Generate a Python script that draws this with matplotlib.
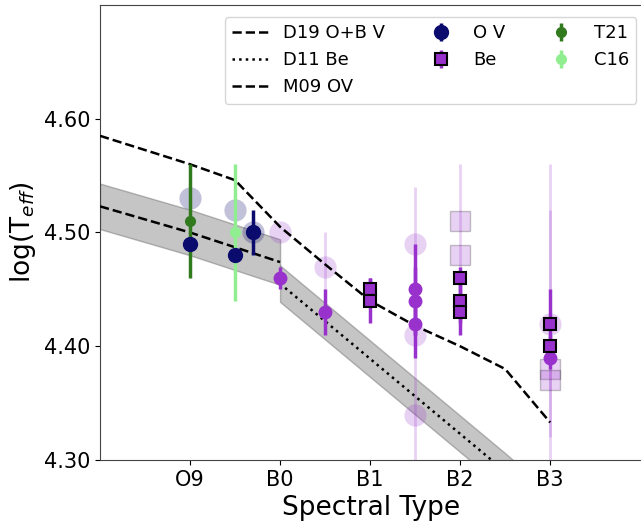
import matplotlib
matplotlib.use("Agg")
import matplotlib.pyplot as plt
import numpy as np

# spectral type axis: O9 = 9, B0 = 10, B1 = 11, ...
spec_ticks = [9, 10, 11, 12, 13]
spec_labels = ['O9', 'B0', 'B1', 'B2', 'B3']

# calibrations
d19_x = [8, 9, 9.5, 10, 10.5, 11, 11.5, 12, 12.5, 13]
d19_y = [4.585, 4.560, 4.546, 4.505, 4.472, 4.440, 4.418, 4.400, 4.380, 4.333]
m09_x = [8, 9, 9.5, 10]
m09_y = [4.523, 4.500, 4.487, 4.474]
m09_err = 0.02
d11_x = [10, 10.5, 11, 11.5, 12, 12.5, 13]
d11_y = [4.455, 4.422, 4.389, 4.356, 4.323, 4.290, 4.256]
d11_err = 0.016

# O V stars
ov_x = [9, 9.5, 9.7]
ov_y = [4.49, 4.48, 4.50]
ov_err = [0.0, 0.0, 0.02]
ov_prev_x = [9, 9.5, 9.7]
ov_prev_y = [4.53, 4.52, 4.50]

# literature
t21_x = [9]
t21_y = [4.51]
t21_err = [0.05]
c16_x = [9.5]
c16_y = [4.50]
c16_err = [0.06]

# Be stars
be_c_x = [10, 10.5, 11.5, 11.5, 11.5, 13]
be_c_y = [4.46, 4.43, 4.45, 4.44, 4.42, 4.39]
be_c_err = [0.01, 0.02, 0.04, 0.03, 0.03, 0.01]
be_s_x = [11, 11, 12, 12, 12, 13, 13]
be_s_y = [4.45, 4.44, 4.46, 4.44, 4.43, 4.42, 4.40]
be_s_err = [0.01, 0.02, 0.01, 0.02, 0.02, 0.03, 0.01]

# earlier estimates (lower, upper errors)
be_pc_x = [10, 10.5, 11.5, 11.5, 11.5, 13]
be_pc_y = [4.50, 4.47, 4.49, 4.41, 4.34, 4.42]
be_pc_lo = [0.0, 0.03, 0.05, 0.0, 0.10, 0.10]
be_pc_hi = [0.0, 0.03, 0.05, 0.0, 0.07, 0.10]
be_ps_x = [12, 12, 13, 13]
be_ps_y = [4.51, 4.48, 4.38, 4.37]
be_ps_lo = [0.05, 0.0, 0.0, 0.19]
be_ps_hi = [0.05, 0.0, 0.0, 0.19]

navy = '#0b0b6e'
orchid = '#9932cc'
t21_col = '#317a1e'
c16_col = '#90ee90'

fig = plt.figure(figsize=(6.41, 5.25), dpi=100)
ax = fig.add_axes([100 / 641, 65 / 525, 542 / 641, 455 / 525])

# grey bands
m09_y = np.array(m09_y)
d11_y = np.array(d11_y)
ax.fill_between(m09_x, m09_y - m09_err, m09_y + m09_err, color='grey',
                alpha=0.45, edgecolor='dimgrey', zorder=1)
ax.fill_between(d11_x, d11_y - d11_err, d11_y + d11_err, color='grey',
                alpha=0.45, edgecolor='dimgrey', zorder=1)

l1, = ax.plot(d19_x, d19_y, '--', color='k', lw=1.8, zorder=3)
l2, = ax.plot(d11_x, d11_y, ':', color='k', lw=1.8, zorder=3)
l3, = ax.plot(m09_x, m09_y, '--', color='k', lw=1.8, zorder=3)

# previous estimates (faded)
ax.errorbar(ov_prev_x, ov_prev_y, fmt='o', color=navy, ms=16, alpha=0.25,
            mec='none', zorder=2)
ax.errorbar(be_pc_x, be_pc_y, yerr=[be_pc_lo, be_pc_hi], fmt='o', color=orchid,
            ms=16, alpha=0.22, mec='none', elinewidth=2, zorder=2)
ax.errorbar(be_ps_x, be_ps_y, yerr=[be_ps_lo, be_ps_hi], fmt='s', color=orchid,
            ms=14, alpha=0.22, mec='k', elinewidth=2, zorder=2)

# current points
e_t21 = ax.errorbar(t21_x, t21_y, yerr=t21_err, fmt='o', color=t21_col, ms=7,
                    elinewidth=2.5, zorder=4)
e_c16 = ax.errorbar(c16_x, c16_y, yerr=c16_err, fmt='o', color=c16_col, ms=7,
                    elinewidth=2.5, zorder=4)
e_ov = ax.errorbar(ov_x, ov_y, yerr=ov_err, fmt='o', color=navy, ms=10,
                   elinewidth=2.5, zorder=5)
ax.errorbar(be_c_x, be_c_y, yerr=be_c_err, fmt='o', color=orchid, ms=9,
            elinewidth=2.5, zorder=5)
e_be = ax.errorbar(be_s_x, be_s_y, yerr=be_s_err, fmt='s', color=orchid, ms=9,
                   mec='k', mew=1.5, elinewidth=2.5, zorder=6)

ax.set_xlim(8, 14.02)
ax.set_ylim(4.30, 4.70)
ax.set_xticks(spec_ticks)
ax.set_xticklabels(spec_labels)
ax.set_yticks([4.30, 4.40, 4.50, 4.60])
ax.set_yticklabels(['4.30', '4.40', '4.50', '4.60'])
ax.tick_params(labelsize=15)
ax.set_xlabel('Spectral Type', fontsize=19)
ax.set_ylabel(r'log(T$_{eff}$)', fontsize=19)
for s in ax.spines.values():
    s.set_color('#444444')

ax.legend([l1, l2, l3, e_ov, e_be, e_t21, e_c16],
          ['D19 O+B V', 'D11 Be', 'M09 OV', 'O V', 'Be', 'T21', 'C16'],
          ncol=3, loc='upper right', fontsize=13, handlelength=2.0,
          columnspacing=2.1, bbox_to_anchor=(1.006, 0.993))

fig.savefig('out.png', dpi=100)
